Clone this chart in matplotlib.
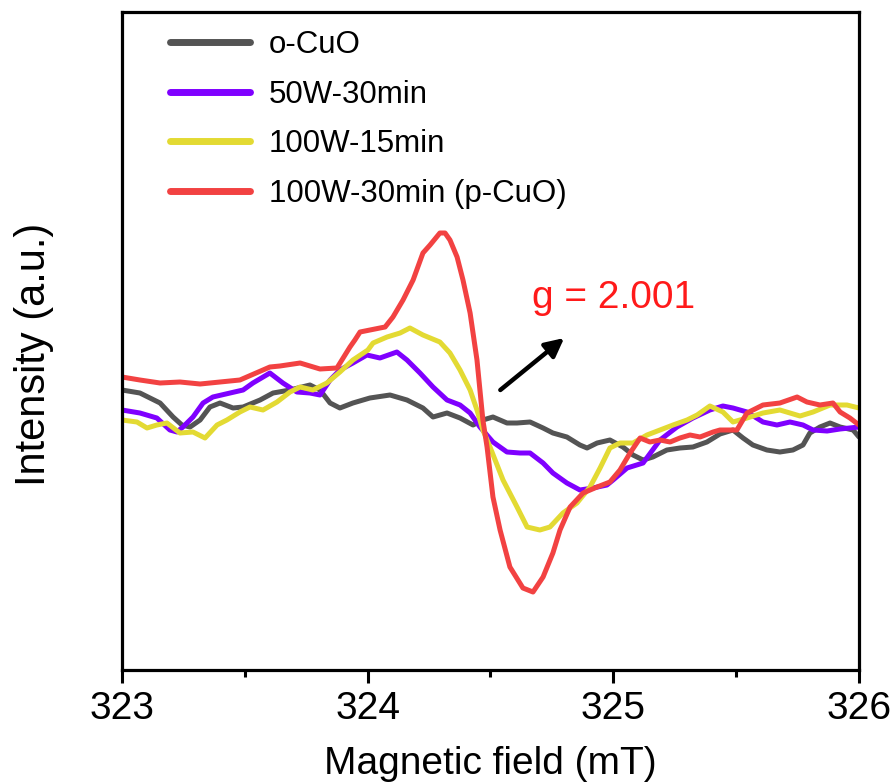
import matplotlib
matplotlib.use("Agg")
import matplotlib.pyplot as plt
from matplotlib.ticker import MultipleLocator

plt.rcParams['font.family'] = ['Liberation Sans', 'DejaVu Sans']

labels = ["o-CuO", "50W-30min", "100W-15min", "100W-30min (p-CuO)"]
colors = ["#545454", "#7F00FF", "#E3DA33", "#F24242"]

ocuo_x = [323.000, 323.073, 323.155, 323.208, 323.244, 323.277, 323.318, 323.358, 323.399, 323.452,
          323.493, 323.562, 323.615, 323.684, 323.765, 323.806, 323.847, 323.887, 323.940, 324.009,
          324.091, 324.160, 324.225, 324.266, 324.323, 324.376, 324.429, 324.469, 324.510, 324.567,
          324.608, 324.661, 324.714, 324.754, 324.811, 324.864, 324.893, 324.934, 324.986, 325.039,
          325.080, 325.121, 325.161, 325.218, 325.271, 325.324, 325.381, 325.434, 325.487, 325.528,
          325.568, 325.625, 325.678, 325.731, 325.772, 325.800, 325.841, 325.882, 325.923, 325.976,
          326.000]
ocuo_y = [280, 277, 267, 253, 245, 243, 250, 263, 267, 262,
          263, 270, 277, 280, 285, 280, 267, 262, 267, 272,
          275, 270, 262, 253, 257, 252, 245, 250, 253, 247,
          247, 248, 242, 237, 233, 225, 222, 227, 230, 223,
          215, 210, 213, 220, 222, 223, 228, 236, 240, 232,
          225, 220, 218, 220, 225, 237, 243, 247, 243, 240,
          233]

w50_x = [323.000, 323.073, 323.142, 323.195, 323.224, 323.248, 323.289, 323.330, 323.370, 323.440,
         323.493, 323.533, 323.602, 323.655, 323.712, 323.765, 323.806, 323.847, 323.887, 323.940,
         323.997, 324.050, 324.119, 324.160, 324.213, 324.266, 324.323, 324.376, 324.417, 324.457,
         324.510, 324.567, 324.620, 324.661, 324.714, 324.754, 324.811, 324.864, 324.917, 324.974,
         324.999, 325.056, 325.121, 325.190, 325.259, 325.324, 325.393, 325.446, 325.487, 325.544,
         325.609, 325.666, 325.719, 325.772, 325.813, 325.870, 325.923, 326.000]
w50_y = [260, 257, 252, 240, 238, 243, 253, 267, 273, 277,
         280, 287, 297, 287, 278, 277, 275, 290, 300, 307,
         315, 312, 318, 310, 297, 283, 270, 265, 257, 243,
         228, 218, 217, 217, 207, 197, 187, 180, 182, 185,
         190, 202, 207, 230, 243, 252, 260, 264, 262, 258,
         248, 245, 248, 245, 240, 239, 241, 243]

w100_15_x = [323.000, 323.061, 323.102, 323.142, 323.183, 323.236, 323.289, 323.338, 323.387, 323.427,
             323.480, 323.521, 323.574, 323.631, 323.684, 323.725, 323.777, 323.834, 323.887, 323.940,
             324.001, 324.022, 324.079, 324.132, 324.172, 324.225, 324.294, 324.335, 324.376, 324.417,
             324.445, 324.469, 324.498, 324.551, 324.608, 324.649, 324.701, 324.742, 324.795, 324.852,
             324.905, 324.946, 324.986, 325.027, 325.080, 325.137, 325.190, 325.243, 325.300, 325.341,
             325.393, 325.446, 325.487, 325.544, 325.609, 325.678, 325.760, 325.813, 325.882, 325.951,
             326.000]
w100_15_y = [250, 248, 242, 245, 247, 237, 238, 232, 245, 250,
             258, 263, 260, 268, 278, 283, 280, 287, 298, 310,
             320, 327, 333, 337, 342, 335, 328, 317, 300, 280,
             260, 240, 223, 190, 163, 143, 140, 143, 157, 167,
             183, 202, 222, 227, 227, 235, 240, 245, 250, 255,
             264, 258, 248, 252, 257, 260, 254, 258, 265, 265,
             262]

w100_30_x = [323.000, 323.073, 323.155, 323.236, 323.318, 323.399, 323.480, 323.602, 323.643, 323.725,
             323.806, 323.875, 323.928, 323.948, 323.969, 324.050, 324.071, 324.103, 324.144, 324.185,
             324.225, 324.254, 324.294, 324.315, 324.335, 324.364, 324.388, 324.417, 324.445, 324.457,
             324.469, 324.486, 324.510, 324.539, 324.579, 324.632, 324.673, 324.714, 324.754, 324.783,
             324.824, 324.877, 324.934, 324.986, 325.027, 325.068, 325.109, 325.149, 325.190, 325.231,
             325.271, 325.312, 325.353, 325.406, 325.434, 325.503, 325.544, 325.609, 325.678, 325.748,
             325.788, 325.841, 325.894, 325.923, 325.963, 326.000]
w100_30_y = [293, 290, 287, 288, 286, 288, 290, 303, 304, 307,
             301, 302, 323, 330, 338, 342, 343, 353, 370, 390,
             417, 425, 437, 437, 430, 413, 390, 357, 310, 280,
             250, 223, 173, 140, 103, 82, 78, 93, 117, 140,
             163, 177, 183, 188, 200, 217, 232, 228, 230, 228,
             232, 235, 233, 238, 240, 240, 257, 265, 267, 273,
             268, 265, 267, 258, 252, 245]

series_x = [ocuo_x, w50_x, w100_15_x, w100_30_x]
series_y = [ocuo_y, w50_y, w100_15_y, w100_30_y]

fig = plt.figure(figsize=(8.91, 7.84), dpi=100)
ax = fig.add_axes([0.1369, 0.1454, 0.8272, 0.8393])

for xs, ys, c, lab in zip(series_x, series_y, colors, labels):
    ax.plot(xs, ys, color=c, lw=3.6, label=lab, solid_joinstyle='round', solid_capstyle='round')

ax.set_xlim(323, 326)
ax.set_ylim(0, 658)
ax.set_yticks([])
ax.xaxis.set_major_locator(MultipleLocator(1))
ax.xaxis.set_minor_locator(MultipleLocator(0.5))
ax.tick_params(axis='x', which='major', direction='out', length=9, width=2.2,
               labelsize=28, pad=6)
ax.tick_params(axis='x', which='minor', direction='out', length=5, width=2.2)
for s in ax.spines.values():
    s.set_linewidth(2.3)

ax.set_xlabel("Magnetic field (mT)", fontsize=28, labelpad=14)
ax.set_ylabel("Intensity (a.u.)", fontsize=30)
ax.yaxis.set_label_coords(-0.092, 0.479)

leg = ax.legend(loc='upper left', bbox_to_anchor=(0.065, 0.972), frameon=False,
                fontsize=22.5, handlelength=2.55, handletextpad=0.62, labelspacing=0.62,
                borderpad=0, borderaxespad=0)
for l in leg.get_lines():
    l.set_linewidth(5)

ax.annotate("", xy=(324.80, 332), xytext=(324.54, 280),
            arrowprops=dict(arrowstyle='-|>', color='black', lw=3.2, mutation_scale=28,
                            shrinkA=0, shrinkB=0))
ax.text(325.0, 372, "g = 2.001", color='#FF1A1A', fontsize=28, ha='center', va='center')

fig.savefig("out.png", dpi=100)
